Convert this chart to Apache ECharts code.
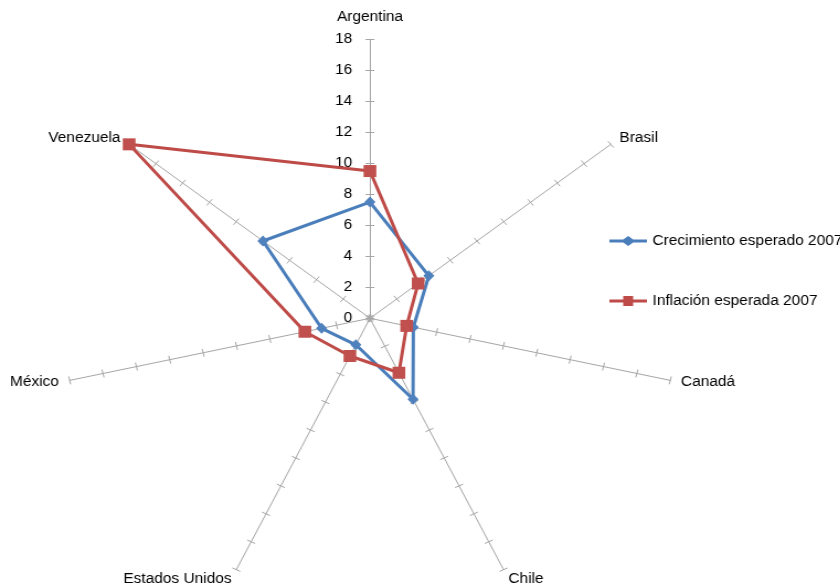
<!DOCTYPE html>
<html>
<head>
<meta charset="utf-8">
<script src="https://cdn.jsdelivr.net/npm/echarts@6/dist/echarts.min.js"></script>
<style>
  html, body { margin: 0; padding: 0; background: #ffffff; overflow: hidden; }
  /* The plot is drawn a little narrower and widened back, giving the oval radar of the original sheet. */
  #chart { width: 761px; height: 586px; transform: scaleX(1.104); transform-origin: 0 0; }
</style>
</head>
<body>
<div id="chart"></div>
<script>
// Países (ejes del radar, en sentido horario desde arriba)
const paises = ['Argentina', 'Brasil', 'Canadá', 'Chile', 'Estados Unidos', 'México', 'Venezuela'];
// Crecimiento esperado 2007 (%)
const crecimiento = [7.5, 4.4, 2.6, 5.8, 1.9, 2.9, 8.0];
// Inflación esperada 2007 (%)
const inflacion = [9.5, 3.6, 2.2, 3.9, 2.7, 3.9, 18.0];
const nombresSeries = ['Crecimiento esperado 2007', 'Inflación esperada 2007'];
const escalaMin = 0;
const escalaMax = 18;
const divisiones = 9;

const FONT = 'Liberation Sans';
const GRIS = '#a6a6a6';
const AZUL = '#4a7ebb';
const AZUL_MARCA = '#4f81bd';
const ROJO = '#be4b48';
const ROJO_MARCA = '#c0504d';

// ECharts lays radar axes out counter-clockwise; walking the list as
// first, last, ..., second puts them clockwise from the top.
const orden = [0].concat(paises.map((_, i) => i).slice(1).reverse());
const ordenar = (arr) => orden.map(i => arr[i]);

const chart = echarts.init(document.getElementById('chart'), null, { renderer: 'canvas' });

const indicadores = ordenar(paises).map((p, i) => ({
  name: p,
  min: escalaMin,
  max: escalaMax,
  axisLabel: { show: i === 0 }
}));
const indicadoresSinTexto = ordenar(paises).map(p => ({ name: p, min: escalaMin, max: escalaMax }));

const centro = [335.1, 318.3];
const radio = 279;

const iconoRombo = 'path://M0,3.6L12.5,3.6L17,0L21.5,3.6L34,3.6L34,6.4L21.5,6.4L17,10L12.5,6.4L0,6.4Z';
const iconoCuadro = 'path://M0,3.6L12.5,3.6L12.5,0L21.5,0L21.5,3.6L34,3.6L34,6.4L21.5,6.4L21.5,10L12.5,10L12.5,6.4L0,6.4Z';

chart.setOption({
  animation: false,
  backgroundColor: '#ffffff',
  textStyle: { fontFamily: FONT },
  legend: {
    orient: 'vertical',
    left: 547,
    top: 229,
    itemWidth: 34,
    itemHeight: 10,
    itemGap: 46,
    textStyle: { fontFamily: FONT, fontSize: 14, color: '#000000' },
    data: [
      { name: nombresSeries[0], icon: iconoRombo, itemStyle: { color: AZUL } },
      { name: nombresSeries[1], icon: iconoCuadro, itemStyle: { color: ROJO } }
    ]
  },
  radar: [
    {
      center: centro,
      radius: radio,
      startAngle: 90,
      splitNumber: divisiones,
      shape: 'polygon',
      indicator: indicadores,
      axisNameGap: 10,
      axisName: {
        color: '#000000',
        fontFamily: FONT,
        fontSize: 14,
        formatter: (n) => n === paises[0] ? '{arriba|' + n + '}' : n,
        rich: { arriba: { fontFamily: FONT, fontSize: 14, color: '#000000', padding: [0, 0, 5, 0] } }
      },
      axisLine: { show: true, lineStyle: { color: GRIS, width: 1 } },
      axisTick: { show: true, length: 4, lineStyle: { color: GRIS, width: 1 } },
      axisLabel: { show: false, margin: 16, color: '#000000', fontFamily: FONT, fontSize: 14 },
      splitLine: { show: false },
      splitArea: { show: false }
    },
    {
      // second set of axes only adds the tick halves on the other side of each axis
      center: centro,
      radius: radio,
      startAngle: 90,
      splitNumber: divisiones,
      shape: 'polygon',
      indicator: indicadoresSinTexto,
      axisName: { show: false },
      axisLine: { show: false },
      axisTick: { show: true, length: -4, lineStyle: { color: GRIS, width: 1 } },
      axisLabel: { show: false },
      splitLine: { show: false },
      splitArea: { show: false }
    }
  ],
  series: [
    {
      type: 'radar',
      radarIndex: 0,
      z: 3,
      data: [
        {
          name: nombresSeries[0],
          value: ordenar(crecimiento),
          symbol: 'diamond',
          symbolSize: [10, 11],
          lineStyle: { color: AZUL, width: 3 },
          itemStyle: { color: AZUL_MARCA }
        }
      ]
    },
    {
      type: 'radar',
      radarIndex: 0,
      z: 4,
      data: [
        {
          name: nombresSeries[1],
          value: ordenar(inflacion),
          symbol: 'rect',
          symbolSize: [11.5, 12],
          lineStyle: { color: ROJO, width: 3 },
          itemStyle: { color: ROJO_MARCA }
        }
      ]
    }
  ]
});
</script>
</body>
</html>
